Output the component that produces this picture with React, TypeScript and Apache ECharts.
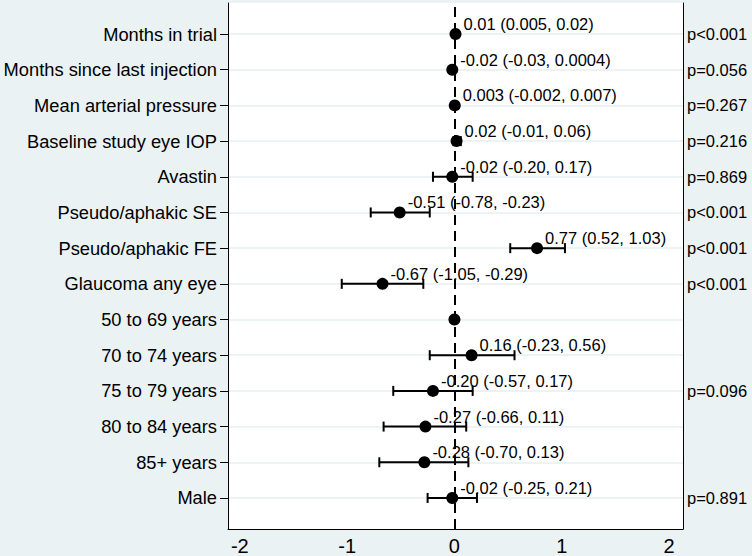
import React, { useEffect, useRef } from "react";
import * as echarts from "echarts";

const categories = [
  "Months in trial",
  "Months since last injection",
  "Mean arterial pressure",
  "Baseline study eye IOP",
  "Avastin",
  "Pseudo/aphakic SE",
  "Pseudo/aphakic FE",
  "Glaucoma any eye",
  "50 to 69 years",
  "70 to 74 years",
  "75 to 79 years",
  "80 to 84 years",
  "85+ years",
  "Male",
];
const estimates = [0.01, -0.02, 0.003, 0.02, -0.02, -0.51, 0.77, -0.67, 0, 0.16, -0.2, -0.27, -0.28, -0.02];
const lower: (number | null)[] = [0.005, -0.03, -0.002, -0.01, -0.2, -0.78, 0.52, -1.05, null, -0.23, -0.57, -0.66, -0.7, -0.25];
const upper: (number | null)[] = [0.02, 0.0004, 0.007, 0.06, 0.17, -0.23, 1.03, -0.29, null, 0.56, 0.17, 0.11, 0.13, 0.21];
const estLabels = [
  "0.01 (0.005, 0.02)",
  "-0.02 (-0.03, 0.0004)",
  "0.003 (-0.002, 0.007)",
  "0.02 (-0.01, 0.06)",
  "-0.02 (-0.20, 0.17)",
  "-0.51 (-0.78, -0.23)",
  "0.77 (0.52, 1.03)",
  "-0.67 (-1.05, -0.29)",
  "",
  "0.16 (-0.23, 0.56)",
  "-0.20 (-0.57, 0.17)",
  "-0.27 (-0.66, 0.11)",
  "-0.28 (-0.70, 0.13)",
  "-0.02 (-0.25, 0.21)",
];
const pValues = [
  "p<0.001", "p=0.056", "p=0.267", "p=0.216", "p=0.869", "p<0.001", "p<0.001",
  "p<0.001", "", "", "p=0.096", "", "", "p=0.891",
];
const xTicks = [-2, -1, 0, 1, 2];
const X_MIN = -2.11;
const X_MAX = 2.13;

const FONT = "'Liberation Sans', Arial, sans-serif";

export default function App() {
  const ref = useRef<HTMLDivElement>(null);
  useEffect(() => {
    if (!ref.current) return;
    const chart = echarts.init(ref.current, undefined, { renderer: "svg" });
    const n = categories.length;
    const rowVal = (i: number) => n - i;
    const rowVals = categories.map((_, i) => rowVal(i));
    const labelMap: Record<number, string> = {};
    const pMap: Record<number, string> = {};
    categories.forEach((c, i) => {
      labelMap[rowVal(i)] = c;
      pMap[rowVal(i)] = pValues[i];
    });
    const pRows = pValues.map((p, i) => (p ? rowVal(i) : null)).filter((v) => v !== null) as number[];

    const ciData = categories
      .map((_, i) => (lower[i] === null ? null : [rowVal(i), lower[i], upper[i]]))
      .filter((d) => d !== null);
    const pointData = categories.map((_, i) => [estimates[i], rowVal(i), estLabels[i]]);

    chart.setOption({
      animation: false,
      backgroundColor: "#eaf2f3",
      grid: {
        left: 228,
        right: 69,
        top: 3,
        bottom: 26,
        show: true,
        backgroundColor: "#ffffff",
        borderWidth: 0,
      },
      xAxis: {
        type: "value",
        min: X_MIN,
        max: X_MAX,
        axisLine: { show: true, onZero: false, lineStyle: { color: "#000", width: 1 } },
        axisTick: { show: false },
        splitLine: { show: false },
        axisLabel: {
          customValues: xTicks,
          color: "#000",
          fontFamily: FONT,
          fontSize: 20,
          margin: 7,
        },
      },
      yAxis: [
        {
          type: "value",
          min: 0.13,
          max: 14.87,
          position: "left",
          axisLine: { show: true, onZero: false, lineStyle: { color: "#000", width: 1 } },
          axisTick: {
            show: true,
            customValues: rowVals,
            length: 8,
            lineStyle: { color: "#000", width: 1 },
          },
          splitLine: { show: true, lineStyle: { color: "#e6eff0", width: 1.5 } },
          axisLabel: {
            customValues: rowVals,
            formatter: (v: number) => labelMap[Math.round(v)] || "",
            color: "#000",
            fontFamily: FONT,
            fontSize: 18.3,
            margin: 11,
          },
        },
        {
          type: "value",
          min: 0.13,
          max: 14.87,
          position: "right",
          axisLine: { show: true, onZero: false, lineStyle: { color: "#000", width: 1 } },
          axisTick: { show: false },
          splitLine: { show: false },
          axisLabel: {
            customValues: pRows,
            formatter: (v: number) => pMap[Math.round(v)] || "",
            color: "#000",
            fontFamily: FONT,
            fontSize: 16.5,
            margin: 4,
          },
        },
      ],
      series: [
        {
          type: "custom",
          xAxisIndex: 0,
          yAxisIndex: 0,
          z: 3,
          encode: { x: [1, 2], y: 0 },
          data: ciData,
          renderItem: (params: any, api: any) => {
            const y = api.value(0);
            const p1 = api.coord([api.value(1), y]);
            const p2 = api.coord([api.value(2), y]);
            const h = 5;
            const st = { stroke: "#000", lineWidth: 2 };
            return {
              type: "group",
              children: [
                { type: "line", shape: { x1: p1[0], y1: p1[1], x2: p2[0], y2: p2[1] }, style: st },
                { type: "line", shape: { x1: p1[0], y1: p1[1] - h, x2: p1[0], y2: p1[1] + h }, style: st },
                { type: "line", shape: { x1: p2[0], y1: p2[1] - h, x2: p2[0], y2: p2[1] + h }, style: st },
              ],
            };
          },
        },
        {
          type: "scatter",
          xAxisIndex: 0,
          yAxisIndex: 0,
          z: 4,
          symbol: "circle",
          symbolSize: 12,
          itemStyle: { color: "#000", opacity: 1 },
          data: pointData,
          label: {
            show: true,
            position: [14, -4],
            align: "left",
            verticalAlign: "middle",
            formatter: (p: any) => p.data[2],
            color: "#000",
            opacity: 1,
            fontFamily: FONT,
            fontSize: 16.5,
          },
          markLine: {
            silent: true,
            symbol: "none",
            label: { show: false },
            lineStyle: { color: "#000", width: 2, type: [10, 6], opacity: 1 },
            data: [{ xAxis: 0 }],
          },
        },
      ],
    });
    return () => chart.dispose();
  }, []);
  return (
    <div
      ref={ref}
      style={{ position: "fixed", left: 0, top: 0, width: 752, height: 556 }}
    />
  );
}
